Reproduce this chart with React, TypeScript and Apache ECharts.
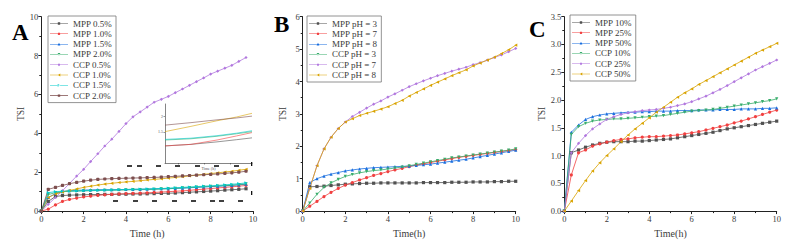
import React, { useEffect, useRef } from "react";
import * as echarts from "echarts";

// ---------- data ----------
const timeA = [0, 0.33, 0.67, 1, 1.33, 1.67, 2, 2.33, 2.67, 3, 3.33, 3.67, 4, 4.33, 4.67, 5, 5.33, 5.67, 6, 6.33, 6.67, 7, 7.33, 7.67, 8, 8.33, 8.67, 9, 9.33, 9.67];
const timeBC = [0, 0.33, 0.67, 1, 1.33, 1.67, 2, 2.33, 2.67, 3, 3.33, 3.67, 4, 4.33, 4.67, 5, 5.33, 5.67, 6, 6.33, 6.67, 7, 7.33, 7.67, 8, 8.33, 8.67, 9, 9.33, 9.67, 10];

// Panel A
const namesA = ["MPP 0.5%", "MPP 1.0%", "MPP 1.5%", "MPP 2.0%", "CCP 0.5%", "CCP 1.0%", "CCP 1.5%", "CCP 2.0%"];
const aMPP05 = [0, 0.5, 0.75, 0.8, 0.82, 0.83, 0.84, 0.85, 0.85, 0.86, 0.86, 0.87, 0.87, 0.88, 0.88, 0.89, 0.9, 0.91, 0.92, 0.93, 0.95, 0.97, 0.99, 1.01, 1.03, 1.05, 1.08, 1.1, 1.12, 1.15];
const aMPP10 = [0, 0.1, 0.32, 0.5, 0.6, 0.67, 0.73, 0.77, 0.81, 0.84, 0.86, 0.88, 0.9, 0.91, 0.92, 0.94, 0.96, 0.98, 1.0, 1.02, 1.04, 1.07, 1.1, 1.13, 1.16, 1.19, 1.22, 1.25, 1.28, 1.32];
const aMPP15 = [0, 0.7, 0.9, 1.0, 1.05, 1.07, 1.08, 1.09, 1.1, 1.1, 1.1, 1.11, 1.11, 1.12, 1.12, 1.13, 1.14, 1.15, 1.16, 1.17, 1.18, 1.2, 1.22, 1.24, 1.26, 1.28, 1.3, 1.32, 1.35, 1.38];
const aMPP20 = [0, 0.85, 0.95, 1.0, 1.02, 1.03, 1.04, 1.05, 1.06, 1.07, 1.07, 1.08, 1.09, 1.1, 1.1, 1.11, 1.12, 1.14, 1.15, 1.17, 1.19, 1.21, 1.23, 1.25, 1.27, 1.29, 1.31, 1.33, 1.36, 1.4];
const aCCP05 = [0, 0.35, 0.7, 1.05, 1.42, 1.8, 2.15, 2.55, 2.95, 3.35, 3.7, 4.1, 4.5, 4.85, 5.1, 5.35, 5.6, 5.75, 5.9, 6.09, 6.28, 6.47, 6.66, 6.85, 7.05, 7.2, 7.35, 7.5, 7.7, 7.9];
const aCCP10 = [0, 0.7, 0.88, 0.98, 1.06, 1.14, 1.22, 1.28, 1.34, 1.39, 1.43, 1.47, 1.5, 1.53, 1.56, 1.6, 1.63, 1.66, 1.7, 1.73, 1.77, 1.81, 1.85, 1.89, 1.93, 1.97, 2.01, 2.05, 2.1, 2.15];
const aCCP15 = [0, 0.95, 1.0, 1.02, 1.03, 1.04, 1.05, 1.06, 1.07, 1.08, 1.09, 1.1, 1.11, 1.12, 1.13, 1.14, 1.15, 1.16, 1.18, 1.2, 1.22, 1.24, 1.26, 1.28, 1.3, 1.32, 1.35, 1.38, 1.41, 1.45];
const aCCP20 = [0, 1.12, 1.22, 1.32, 1.41, 1.48, 1.54, 1.59, 1.63, 1.65, 1.67, 1.68, 1.69, 1.7, 1.71, 1.72, 1.73, 1.75, 1.77, 1.79, 1.81, 1.83, 1.85, 1.87, 1.89, 1.91, 1.94, 1.97, 2.0, 2.05];

// Panel A inset
const insetTime = [3, 5, 7, 8.5, 9.7];
const inGray = [1.05, 1.1, 1.18, 1.25, 1.31];
const inRed = [1.05, 1.1, 1.24, 1.37, 1.48];
const inGreen = [1.24, 1.28, 1.36, 1.44, 1.51];
const inCyan = [1.26, 1.3, 1.38, 1.46, 1.54];
const inGold = [1.51, 1.68, 1.86, 1.98, 2.1];
const inBrown = [1.72, 1.8, 1.89, 1.95, 2.01];

// Panel B
const namesB = ["MPP pH = 3", "MPP pH = 7", "MPP pH = 8", "CCP pH = 3", "CCP pH = 7", "CCP pH = 8"];
const bMPP3 = [0, 0.75, 0.76, 0.77, 0.79, 0.81, 0.83, 0.84, 0.85, 0.86, 0.86, 0.87, 0.87, 0.87, 0.87, 0.87, 0.87, 0.88, 0.88, 0.88, 0.88, 0.89, 0.89, 0.89, 0.9, 0.9, 0.9, 0.91, 0.91, 0.92, 0.92];
const bMPP7 = [0, 0.15, 0.3, 0.45, 0.58, 0.7, 0.8, 0.88, 0.96, 1.03, 1.1, 1.16, 1.22, 1.27, 1.32, 1.37, 1.42, 1.46, 1.5, 1.54, 1.58, 1.62, 1.66, 1.69, 1.72, 1.75, 1.78, 1.81, 1.84, 1.87, 1.9];
const bMPP8 = [0, 0.88, 1.0, 1.08, 1.14, 1.19, 1.24, 1.27, 1.3, 1.32, 1.34, 1.35, 1.36, 1.37, 1.38, 1.39, 1.41, 1.43, 1.45, 1.48, 1.51, 1.54, 1.57, 1.6, 1.64, 1.68, 1.72, 1.76, 1.8, 1.84, 1.88];
const bCCP3 = [0, 0.25, 0.52, 0.73, 0.87, 0.98, 1.07, 1.13, 1.18, 1.22, 1.25, 1.27, 1.3, 1.33, 1.36, 1.4, 1.44, 1.48, 1.52, 1.56, 1.6, 1.64, 1.67, 1.7, 1.73, 1.76, 1.79, 1.82, 1.85, 1.88, 1.92];
const bCCP7 = [0, 0.7, 1.4, 1.92, 2.28, 2.55, 2.75, 2.92, 3.05, 3.18, 3.3, 3.4, 3.52, 3.62, 3.73, 3.84, 3.93, 4.02, 4.1, 4.18, 4.25, 4.32, 4.38, 4.44, 4.52, 4.58, 4.66, 4.74, 4.82, 4.92, 5.02];
const bCCP8 = [0, 0.7, 1.4, 1.92, 2.28, 2.55, 2.75, 2.85, 2.95, 3.02, 3.08, 3.15, 3.22, 3.32, 3.42, 3.55, 3.66, 3.77, 3.88, 3.98, 4.08, 4.18, 4.27, 4.36, 4.48, 4.57, 4.66, 4.75, 4.86, 4.98, 5.12];

// Panel C
const namesC = ["MPP 10%", "MPP 25%", "MPP 50%", "CCP 10%", "CCP 25%", "CCP 50%"];
const cMPP10 = [0, 1.05, 1.1, 1.15, 1.19, 1.22, 1.24, 1.25, 1.25, 1.25, 1.26, 1.26, 1.27, 1.28, 1.29, 1.3, 1.32, 1.34, 1.36, 1.38, 1.4, 1.42, 1.45, 1.48, 1.5, 1.52, 1.54, 1.56, 1.58, 1.6, 1.62];
const cMPP25 = [0, 0.65, 1.05, 1.1, 1.17, 1.21, 1.24, 1.27, 1.29, 1.3, 1.32, 1.33, 1.34, 1.34, 1.35, 1.36, 1.37, 1.39, 1.41, 1.43, 1.46, 1.49, 1.52, 1.55, 1.59, 1.62, 1.66, 1.7, 1.74, 1.78, 1.82];
const cMPP50 = [0, 1.42, 1.55, 1.65, 1.7, 1.73, 1.75, 1.76, 1.77, 1.78, 1.78, 1.79, 1.79, 1.8, 1.8, 1.8, 1.81, 1.81, 1.81, 1.82, 1.82, 1.82, 1.83, 1.83, 1.83, 1.84, 1.84, 1.84, 1.85, 1.85, 1.86];
const cCCP10 = [0, 1.38, 1.52, 1.58, 1.62, 1.64, 1.65, 1.66, 1.66, 1.67, 1.68, 1.69, 1.7, 1.71, 1.72, 1.74, 1.76, 1.78, 1.8, 1.81, 1.82, 1.83, 1.85, 1.87, 1.89, 1.91, 1.93, 1.95, 1.97, 1.99, 2.02];
const cCCP25 = [0, 1.05, 1.22, 1.36, 1.48, 1.57, 1.65, 1.7, 1.74, 1.77, 1.79, 1.81, 1.82, 1.83, 1.85, 1.87, 1.9, 1.93, 1.97, 2.02, 2.07, 2.13, 2.19, 2.26, 2.33, 2.4, 2.47, 2.54, 2.6, 2.66, 2.72];
const cCCP50 = [0, 0.18, 0.37, 0.55, 0.72, 0.87, 1.0, 1.12, 1.25, 1.37, 1.48, 1.58, 1.68, 1.78, 1.87, 1.96, 2.05, 2.13, 2.2, 2.28, 2.35, 2.42, 2.49, 2.56, 2.63, 2.7, 2.77, 2.84, 2.9, 2.96, 3.02];

// ---------- styles ----------
const COLORS = ["#515151", "#F14040", "#1A6FDF", "#37AD6B", "#B177DE", "#D9A300", "#00CBCC", "#7D4E4E"];
const SYMBOLS = ["rect", "circle", "triangle", "triangle", "diamond", "triangle", "triangle", "roundRect"];
const ROTS = [0, 0, 0, 180, 0, 90, -90, 0];
// legend icons: thin line plus a small marker, in an 18x6 box
const LEGEND_ICONS = [
  "path://M0,2.7H18V3.3H0Z M7.8,1.8H10.2V4.2H7.8Z",
  "path://M0,2.7H18V3.3H0Z M9,1.7A1.3,1.3,0,1,1,8.99,1.7Z",
  "path://M0,2.7H18V3.3H0Z M9,1.6L10.4,4.2H7.6Z",
  "path://M0,2.7H18V3.3H0Z M9,4.4L10.4,1.8H7.6Z",
  "path://M0,2.7H18V3.3H0Z M9,1.5L10.4,3L9,4.5L7.6,3Z",
  "path://M0,2.7H18V3.3H0Z M7.7,3L10.3,1.6V4.4Z",
  "path://M0,2.7H18V3.3H0Z M10.3,3L7.7,1.6V4.4Z",
  "path://M0,2.7H18V3.3H0Z M7.8,1.8H10.2V4.2H7.8Z",
];
const FONT = "Times New Roman";
const TXT = "#3a3a3a";

function series(name: string, xs: number[], ys: number[], k: number, g: number) {
  return {
    type: "line",
    name,
    xAxisIndex: g,
    yAxisIndex: g,
    data: xs.map((x, i) => [x, ys[i]]),
    color: COLORS[k],
    symbol: SYMBOLS[k],
    symbolRotate: ROTS[k],
    symbolSize: 3.2,
    showSymbol: true,
    lineStyle: { width: 0.8 },
    itemStyle: { color: COLORS[k] },
  };
}

function insetLine(name: string, ys: number[], k: number) {
  return {
    type: "line",
    name,
    xAxisIndex: 3,
    yAxisIndex: 3,
    data: insetTime.map((x, i) => [x, ys[i]]),
    color: COLORS[k],
    showSymbol: false,
    symbol: "none",
    lineStyle: { width: 0.6, color: COLORS[k] },
  };
}

function xAxis(g: number, name: string) {
  return {
    type: "value",
    gridIndex: g,
    min: 0,
    max: 10,
    interval: 2,
    name,
    nameLocation: "middle",
    nameGap: 14,
    nameTextStyle: { fontFamily: FONT, fontSize: 10, color: TXT, fontWeight: "normal" },
    axisLine: { show: true, lineStyle: { color: "#222", width: 1 } },
    axisTick: { show: true, length: 3, lineStyle: { color: "#222" } },
    minorTick: { show: true, splitNumber: 2, length: 2, lineStyle: { color: "#222" } },
    axisLabel: { fontFamily: FONT, fontSize: 8.5, color: TXT, margin: 3, fontWeight: "normal" },
    splitLine: { show: false },
  };
}

function yAxis(g: number, max: number, interval: number, dec: number) {
  return {
    type: "value",
    gridIndex: g,
    min: 0,
    max,
    interval,
    name: "TSI",
    nameLocation: "middle",
    nameGap: 15,
    nameTextStyle: { fontFamily: FONT, fontSize: 9.5, color: TXT, fontWeight: "normal" },
    axisLine: { show: true, lineStyle: { color: "#222", width: 1 } },
    axisTick: { show: true, length: 3, lineStyle: { color: "#222" } },
    minorTick: { show: true, splitNumber: 2, length: 2, lineStyle: { color: "#222" } },
    axisLabel: { fontFamily: FONT, fontSize: 8.5, color: TXT, margin: 3, fontWeight: "normal", formatter: (v: number) => v.toFixed(dec) },
    splitLine: { show: false },
  };
}

function legend(names: string[], left: number, top: number) {
  return {
    data: names.map((n, k) => ({ name: n, icon: LEGEND_ICONS[k] })),
    orient: "vertical",
    left,
    top,
    itemWidth: 18,
    itemHeight: 6,
    itemGap: 1.3,
    padding: [3, 4, 2.5, 2],
    borderColor: "#777",
    borderWidth: 0.8,
    backgroundColor: "#fff",
    textStyle: { fontFamily: FONT, fontSize: 9, color: TXT, lineHeight: 9, fontWeight: "normal" },
    selectedMode: false,
  };
}

const dashRow1 = [127, 137, 156, 175, 195, 214, 234];
const dashRow2 = [113, 133, 152, 172, 191, 210, 219, 238];

export default function App() {
  const ref = useRef<HTMLDivElement>(null);
  useEffect(() => {
    if (!ref.current) return;
    const chart = echarts.init(ref.current, undefined, { renderer: "svg" });
    const dashes: any[] = [];
    dashRow1.forEach((x) => dashes.push({ type: "rect", shape: { x, y: 165.2, width: 5, height: 1.6 }, style: { fill: "#111" }, z: 100 }));
    dashRow2.forEach((x) => dashes.push({ type: "rect", shape: { x, y: 200.2, width: 5, height: 1.6 }, style: { fill: "#111" }, z: 100 }));
    dashes.push({ type: "rect", shape: { x: 251, y: 162, width: 1.3, height: 4 }, style: { fill: "#111" }, z: 100 });
    dashes.push({ type: "rect", shape: { x: 251, y: 191, width: 1.3, height: 4 }, style: { fill: "#111" }, z: 100 });

    const option: any = {
      animation: false,
      backgroundColor: "#fff",
      textStyle: { fontFamily: FONT, fontWeight: "normal" },
      grid: [
        { left: 41.3, top: 16.7, width: 211.7, height: 195, containLabel: false },
        { left: 302.7, top: 16.7, width: 213, height: 195, containLabel: false },
        { left: 564.3, top: 16.7, width: 212.4, height: 195, containLabel: false },
        { left: 165, top: 104, width: 87, height: 59, containLabel: false, backgroundColor: "#fff", show: true, borderWidth: 0 },
      ],
      xAxis: [
        xAxis(0, "Time (h)"),
        xAxis(1, "Time(h)"),
        xAxis(2, "Time(h)"),
        {
          type: "value",
          gridIndex: 3,
          min: 3,
          max: 9.7,
          name: "Time (h)",
          nameLocation: "middle",
          nameGap: 3,
          nameTextStyle: { fontFamily: FONT, fontSize: 4, color: "#555", fontWeight: "normal" },
          axisLine: { show: true, lineStyle: { color: "#333", width: 0.6 } },
          axisTick: { show: true, length: 1.5, lineStyle: { color: "#333", width: 0.5 }, customValues: [4, 6, 8] },
          axisLabel: { show: false },
          splitLine: { show: false },
        },
      ],
      yAxis: [
        yAxis(0, 10, 2, 0),
        yAxis(1, 6, 1, 0),
        yAxis(2, 3.5, 0.5, 1),
        {
          type: "value",
          gridIndex: 3,
          min: 0.5,
          max: 2.4,
          axisLine: { show: true, lineStyle: { color: "#333", width: 0.6 } },
          axisTick: { show: true, length: 1.5, lineStyle: { color: "#333", width: 0.5 }, customValues: [1.5, 2] },
          axisLabel: { show: true, fontSize: 4, fontFamily: FONT, color: "#555", margin: 2, customValues: [1.5, 2] },
          splitLine: { show: false },
        },
      ],
      legend: [legend(namesA, 48, 16), legend(namesB, 307, 16), legend(namesC, 570, 15)],
      title: [
        { text: "A", left: 12, top: 21, padding: 0, textStyle: { fontFamily: FONT, fontSize: 23, fontWeight: "bold", color: "#000" } },
        { text: "B", left: 274, top: 13, padding: 0, textStyle: { fontFamily: FONT, fontSize: 23, fontWeight: "bold", color: "#000" } },
        { text: "C", left: 529, top: 18, padding: 0, textStyle: { fontFamily: FONT, fontSize: 23, fontWeight: "bold", color: "#000" } },
      ],
      graphic: dashes,
      series: [
        series(namesA[0], timeA, aMPP05, 0, 0),
        series(namesA[1], timeA, aMPP10, 1, 0),
        series(namesA[2], timeA, aMPP15, 2, 0),
        series(namesA[3], timeA, aMPP20, 3, 0),
        series(namesA[4], timeA, aCCP05, 4, 0),
        series(namesA[5], timeA, aCCP10, 5, 0),
        series(namesA[6], timeA, aCCP15, 6, 0),
        series(namesA[7], timeA, aCCP20, 7, 0),
        insetLine("inset gray", inGray, 0),
        insetLine("inset red", inRed, 1),
        insetLine("inset green", inGreen, 3),
        insetLine("inset cyan", inCyan, 6),
        insetLine("inset gold", inGold, 5),
        insetLine("inset brown", inBrown, 7),
        series(namesB[0], timeBC, bMPP3, 0, 1),
        series(namesB[1], timeBC, bMPP7, 1, 1),
        series(namesB[2], timeBC, bMPP8, 2, 1),
        series(namesB[3], timeBC, bCCP3, 3, 1),
        series(namesB[4], timeBC, bCCP7, 4, 1),
        series(namesB[5], timeBC, bCCP8, 5, 1),
        series(namesC[0], timeBC, cMPP10, 0, 2),
        series(namesC[1], timeBC, cMPP25, 1, 2),
        series(namesC[2], timeBC, cMPP50, 2, 2),
        series(namesC[3], timeBC, cCCP10, 3, 2),
        series(namesC[4], timeBC, cCCP25, 4, 2),
        series(namesC[5], timeBC, cCCP50, 5, 2),
      ],
    };
    chart.setOption(option);
    return () => chart.dispose();
  }, []);
  return <div ref={ref} style={{ position: "fixed", left: 0, top: 0, width: 790, height: 243 }} />;
}
